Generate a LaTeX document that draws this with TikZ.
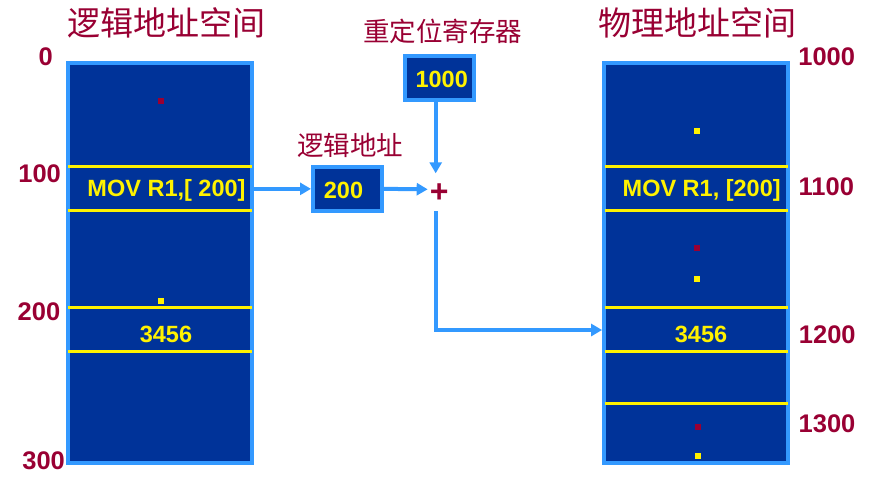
\documentclass[tikz,border=0pt]{standalone}
\usepackage{fontspec}
\setmainfont{Liberation Sans}
\newfontfamily\cjk{Noto Sans CJK SC}
\usetikzlibrary{arrows.meta}
\definecolor{memblue}{HTML}{003399}
\definecolor{edgeblue}{HTML}{3399FF}
\definecolor{addrred}{HTML}{990033}
\begin{document}
\begin{tikzpicture}[x=1pt,y=-1pt,>={Triangle[length=11pt,width=12pt]},
  box/.style={draw=edgeblue,line width=4pt,fill=memblue,inner sep=0pt},
  val/.style={text=yellow,inner sep=0pt,font=\fontsize{23.5}{26}\selectfont\bfseries},
  addr/.style={text=addrred,inner sep=0pt,font=\fontsize{25.5}{28}\selectfont\bfseries},
  heading/.style={text=addrred,inner sep=0pt,font=\cjk\fontsize{33}{36}\selectfont},
  caption/.style={text=addrred,inner sep=0pt,font=\cjk\fontsize{26.5}{30}\selectfont},
  divider/.style={yellow,line width=3.3pt},
  flow/.style={edgeblue,line width=4pt},
  rdot/.style={fill=addrred,minimum size=6pt,inner sep=0pt},
  ydot/.style={fill=yellow,minimum size=6pt,inner sep=0pt}]
\useasboundingbox (0,0) rectangle (878,483);
\path
(160,262.75)  node[box,minimum width=184,minimum height=399.5] (lmem) {}
(696.1,262.75) node[box,minimum width=184,minimum height=399.5] (pmem) {}
(439.5,77.85) node[box,minimum width=68.4,minimum height=43.7] (reg) {}
(347.5,188.85) node[box,minimum width=69,minimum height=43.7] (laddr) {}
(166,23)    node[heading] (ltitle) {逻辑地址空间}
(697,23)    node[heading] (ptitle) {物理地址空间}
(442.5,31.7) node[caption] (regcap) {重定位寄存器}
(350.3,145.7) node[caption] (laddrcap) {逻辑地址}
(441.7,79)  node[val] (regval) {1000}
(343.5,190.5) node[val] (laddrval) {200}
(439.3,193.5) node[text=addrred,inner sep=0pt,font=\fontsize{32}{34}\selectfont\bfseries] (plus) {+};

% dividers
\foreach \y in {166.7,210.7,307.7,351.7}
  \draw[divider] (68,\y) -- (252,\y);
\foreach \y in {166.7,210.7,307.7,351.7,403.7}
  \draw[divider] (604.5,\y) -- (787.5,\y);

% contents
\node[val] (lins) at (166.5,190.6) {MOV R1,[ 200]};
\node[val] (pins) at (701.7,190.6) {MOV R1, [200]};
\node[val] (ldata) at (166,334.4) {3456};
\node[val] (pdata) at (701,334.4) {3456};
\node[rdot] (ld1) at (160.7,100.7) {};
\node[ydot] (ld2) at (160.7,300.7) {};
\node[ydot] (pd1) at (696.7,130.7) {};
\node[rdot] (pd2) at (696.7,248.3) {};
\node[ydot] (pd3) at (696.7,279) {};
\node[rdot] (pd4) at (698.3,426.7) {};
\node[ydot] (pd5) at (698.3,456) {};

% addresses
\node[addr] (a0) at (45.7,56.5) {0};
\node[addr] (a100) at (39.6,174) {100};
\node[addr] (a200) at (39,312) {200};
\node[addr] (a300) at (43.6,460.3) {300};
\node[addr] (a1000) at (826.7,56.5) {1000};
\node[addr] (a1100) at (826.3,186.8) {1100};
\node[addr] (a1200) at (827.3,334.5) {1200};
\node[addr] (a1300) at (827,423.5) {1300};

% adder
\coordinate (sumtop) at (435.7,173.3);
\coordinate (sumin) at (427.7,189.3);
\coordinate (sumout) at (435.7,211);
\coordinate (tgt) at (0,330);
\draw[flow,->] (reg.south -| sumtop) -- (sumtop);
\draw[flow,->] (laddr.west -| lmem.east) -- (laddr.west);
\draw[flow,->] (laddr.east) -- (sumin);
\draw[flow,->] (sumout) |- (pmem.west |- tgt);
\end{tikzpicture}
\end{document}
